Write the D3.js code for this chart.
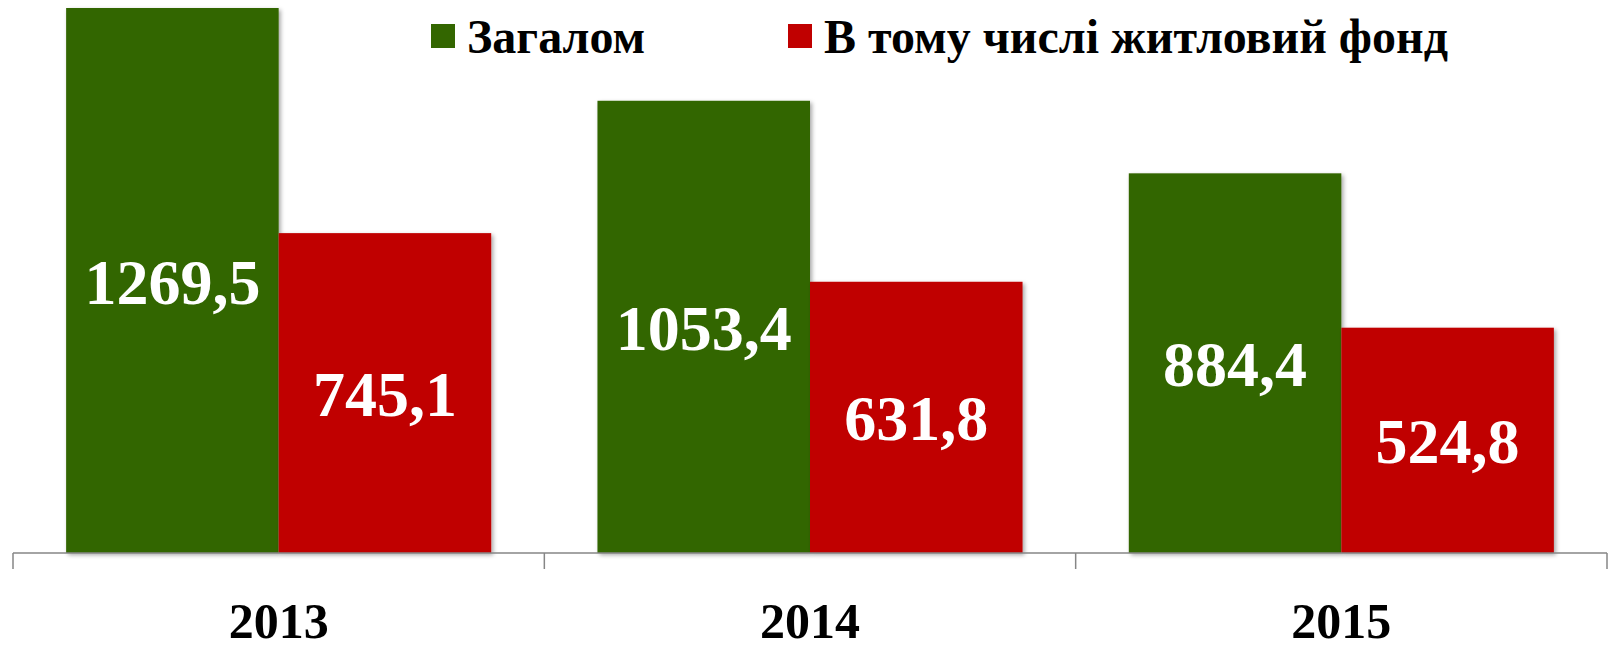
<!DOCTYPE html>
<html>
<head>
<meta charset="utf-8">
<script src="https://cdn.jsdelivr.net/npm/d3@7"></script>
<style>
  body { margin: 0; background: #fff; }
  svg text { font-family: "Liberation Serif", "Times New Roman", serif; font-weight: bold; }
</style>
</head>
<body>
<div id="chart"></div>
<script>
var svgWidth = 1612;
var svgHeight = 649;

// chart data
var years = ["2013", "2014", "2015"];
var seriesNames = ["Загалом", "В тому числі житловий фонд"];
var totalValues = [1269.5, 1053.4, 884.4];
var housingValues = [745.1, 631.8, 524.8];
var colors = ["#336600", "#C00000"];

var data = years.map(function(y, i) {
    return { year: y, values: [totalValues[i], housingValues[i]] };
});

var svg = d3.select("#chart")
    .append("svg")
    .attr("width", svgWidth)
    .attr("height", svgHeight);

// soft shadow under the bars
var defs = svg.append("defs");
var shadow = defs.append("filter")
    .attr("id", "shadow")
    .attr("x", "-10%").attr("y", "-10%")
    .attr("width", "130%").attr("height", "130%");
shadow.append("feDropShadow")
    .attr("dx", 2).attr("dy", 2)
    .attr("stdDeviation", 2)
    .attr("flood-color", "#000")
    .attr("flood-opacity", 0.35);

var baseY = 553;

// scales
var x0 = d3.scaleBand()
    .domain(years)
    .range([13, 1607])
    .paddingInner(0.2)
    .paddingOuter(0.1);

var x1 = d3.scaleBand()
    .domain([0, 1])
    .range([0, x0.bandwidth()]);

var yScale = d3.scaleLinear()
    .domain([0, 1400])
    .range([baseY, baseY - 1400 * 0.4293]);

// bars
var groups = svg.selectAll("g.year")
    .data(data)
    .enter()
    .append("g")
    .attr("class", "year")
    .attr("transform", d => `translate(${x0(d.year)}, 0)`);

groups.selectAll("rect")
    .data(d => d.values)
    .enter()
    .append("rect")
    .attr("x", (d, i) => x1(i))
    .attr("y", d => yScale(d))
    .attr("width", x1.bandwidth())
    .attr("height", d => baseY - yScale(d))
    .attr("fill", (d, i) => colors[i])
    .attr("filter", "url(#shadow)");

// value labels in the middle of each bar
groups.selectAll("text.value")
    .data(d => d.values)
    .enter()
    .append("text")
    .attr("class", "value")
    .attr("x", (d, i) => x1(i) + x1.bandwidth() / 2)
    .attr("y", d => (yScale(d) + baseY) / 2 + 23)
    .attr("text-anchor", "middle")
    .attr("font-size", 64)
    .attr("fill", "#fff")
    .text(d => d3.format(".1f")(d).replace(".", ","));

// category axis with ticks between groups
var step = x0.step();
var r0 = x0.range()[0];
var axisG = svg.append("g").attr("stroke", "#868686").attr("stroke-width", 1.5);
axisG.append("line")
    .attr("x1", r0).attr("x2", x0.range()[1])
    .attr("y1", baseY).attr("y2", baseY);
axisG.selectAll("line.tick")
    .data(d3.range(years.length + 1))
    .enter()
    .append("line")
    .attr("class", "tick")
    .attr("x1", i => r0 + i * step)
    .attr("x2", i => r0 + i * step)
    .attr("y1", baseY)
    .attr("y2", baseY + 16);

svg.selectAll("text.year")
    .data(years)
    .enter()
    .append("text")
    .attr("class", "year")
    .attr("x", d => x0(d) + x0.bandwidth() / 2)
    .attr("y", 638)
    .attr("text-anchor", "middle")
    .attr("font-size", 50)
    .attr("fill", "#000")
    .text(d => d);

// legend
var legendX = [431, 788];
var legend = svg.selectAll("g.legend")
    .data(seriesNames)
    .enter()
    .append("g")
    .attr("class", "legend")
    .attr("transform", (d, i) => `translate(${legendX[i]}, 24)`);

legend.append("rect")
    .attr("width", 24)
    .attr("height", 24)
    .attr("fill", (d, i) => colors[i]);

legend.append("text")
    .attr("x", 36)
    .attr("y", 29)
    .attr("font-size", 48)
    .attr("fill", "#000")
    .text(d => d);
</script>
</body>
</html>
